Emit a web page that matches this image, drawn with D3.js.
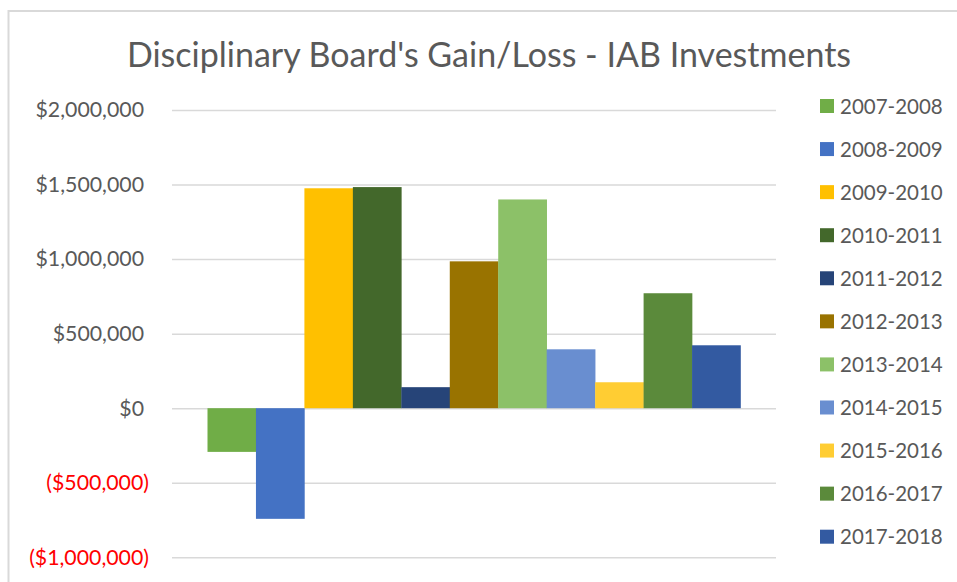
<!DOCTYPE html>
<html>
<head>
<meta charset="utf-8">
<script src="https://cdn.jsdelivr.net/npm/d3@7"></script>
<style>
  html, body { margin: 0; padding: 0; background: #fff; }
  svg { display: block; }
  text { font-family: Lato, "Open Sans", sans-serif; }
</style>
</head>
<body>
<svg id="chart" width="957" height="582"></svg>
<script>
const title = "Disciplinary Board's Gain/Loss - IAB Investments";
const seriesNames = ["2007-2008","2008-2009","2009-2010","2010-2011","2011-2012","2012-2013","2013-2014","2014-2015","2015-2016","2016-2017","2017-2018"];
const seriesValues = [-293000, -742000, 1475000, 1483000, 141000, 985000, 1400000, 395000, 174000, 771000, 422000];
const seriesColors = ["#70AD47","#4472C4","#FFC000","#43682B","#264478","#997300","#8CC168","#698ED0","#FFCD33","#5B8A3B","#335AA1"];
const tickValues = [-1000000, -500000, 0, 500000, 1000000, 1500000, 2000000];
const category = ["IAB Investments"];

const svg = d3.select("#chart");
const plot = {left: 172, right: 776, top: 110, bottom: 557.3};

// chart border (cropped on right and bottom)
svg.append("rect")
  .attr("x", 8.5).attr("y", 11).attr("width", 1000).attr("height", 1000)
  .attr("fill", "none").attr("stroke", "#d9d9d9").attr("stroke-width", 2);

// title
svg.append("text")
  .attr("x", 489).attr("y", 67)
  .attr("text-anchor", "middle")
  .attr("fill", "#595959")
  .attr("font-size", 34)
  .text(title);

const y = d3.scaleLinear().domain([-1000000, 2000000]).range([plot.bottom, plot.top]);
const x0 = d3.scaleBand().domain(category).range([plot.left, plot.right]).paddingOuter(0.0666).paddingInner(0);
const x1 = d3.scaleBand().domain(seriesNames).range([0, x0.bandwidth()]).padding(0);

// gridlines
const grid = svg.append("g").attr("transform", `translate(${plot.left},0)`)
  .call(d3.axisLeft(y).tickValues(tickValues).tickSize(-(plot.right - plot.left)).tickFormat(""));
grid.select(".domain").remove();
grid.selectAll(".tick line").attr("stroke", "#d9d9d9").attr("stroke-width", 1.5);

// axis labels
const fmt = v => v < 0 ? "($" + d3.format(",")(-v) + ")" : "$" + d3.format(",")(v);
const ax = svg.append("g").attr("transform", `translate(${plot.left},0)`)
  .call(d3.axisLeft(y).tickValues(tickValues).tickSize(0).tickPadding(23).tickFormat(fmt));
ax.select(".domain").remove();
ax.selectAll(".tick text")
  .attr("font-family", "Lato, sans-serif")
  .attr("font-size", 21.3)
  .attr("fill", d => d < 0 ? "#FF0000" : "#595959")
  .attr("x", d => d < 0 ? -23 : -28);

// bars
const data = seriesNames.map((s, i) => ({name: s, value: seriesValues[i], color: seriesColors[i]}));
svg.append("g").selectAll("rect").data(data).join("rect")
  .attr("x", d => x0(category[0]) + x1(d.name))
  .attr("width", x1.bandwidth() + 0.3)
  .attr("y", d => y(Math.max(0, d.value)))
  .attr("height", d => Math.abs(y(d.value) - y(0)))
  .attr("fill", d => d.color);

// legend
const legend = svg.append("g");
const items = legend.selectAll("g").data(data).join("g")
  .attr("transform", (d, i) => `translate(820, ${106 + i * 43.07})`);
items.append("rect").attr("x", 0).attr("y", -7).attr("width", 14).attr("height", 14).attr("fill", d => d.color);
items.append("text").attr("x", 20).attr("y", 7.5)
  .attr("font-size", 20.5).attr("fill", "#595959").text(d => d.name);
</script>
</body>
</html>
